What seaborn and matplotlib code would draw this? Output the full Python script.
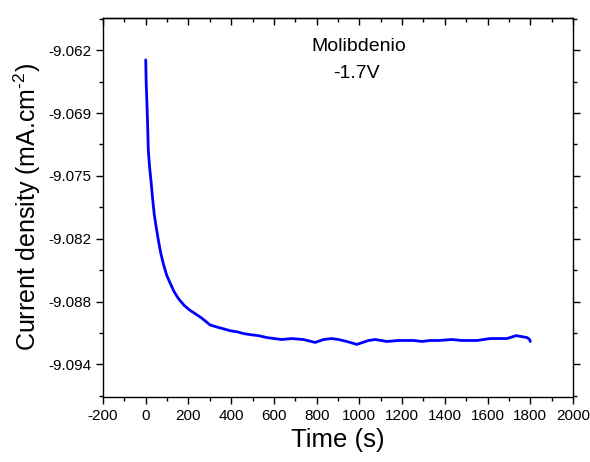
import pandas as pd
import matplotlib
matplotlib.use("Agg")
import matplotlib.pyplot as plt
import seaborn as sns
from matplotlib.ticker import AutoMinorLocator, FixedLocator

# values
time_s = [0, 2, 5, 9, 12, 18, 25, 32, 40, 50, 59, 70, 82, 98, 114, 133, 153,
          180, 207, 235, 262, 301, 330, 364, 395, 426, 460, 489, 527, 567,
          600, 637, 684, 738, 793, 832, 870, 902, 941, 988, 1043, 1074, 1129,
          1183, 1215, 1255, 1293, 1330, 1371, 1433, 1480, 1515, 1550, 1613,
          1650, 1691, 1734, 1760, 1785, 1797, 1800]
current = [-9.0632, -9.0655, -9.0673, -9.0700, -9.0725, -9.0742, -9.0757,
           -9.0774, -9.0791, -9.0805, -9.0817, -9.0830, -9.0841, -9.0853,
           -9.0861, -9.0870, -9.0877, -9.0884, -9.0889, -9.0893, -9.0897,
           -9.0904, -9.0906, -9.0908, -9.0910, -9.0911, -9.0913, -9.0914,
           -9.0915, -9.0917, -9.0918, -9.0919, -9.0918, -9.0919, -9.0922,
           -9.0919, -9.0918, -9.0919, -9.0921, -9.0924, -9.0920, -9.0919,
           -9.0921, -9.0920, -9.0920, -9.0920, -9.0921, -9.0920, -9.0920,
           -9.0919, -9.0920, -9.0920, -9.0920, -9.0918, -9.0918, -9.0918,
           -9.0915, -9.0916, -9.0917, -9.0919, -9.0921]

y_ticks = [-9.0622, -9.06865, -9.0751, -9.08155, -9.0880, -9.09445]
y_labels = ["-9.062", "-9.069", "-9.075", "-9.082", "-9.088", "-9.094"]
x_ticks = list(range(-200, 2001, 200))

df = pd.DataFrame({"Time (s)": time_s, "Current": current})

sns.set_style("ticks")
plt.rcParams["font.family"] = ["Liberation Sans", "DejaVu Sans"]
plt.rcParams["mathtext.fontset"] = "custom"
plt.rcParams["mathtext.rm"] = "Liberation Sans"
plt.rcParams["text.color"] = "black"
plt.rcParams["axes.labelcolor"] = "black"
plt.rcParams["xtick.color"] = "black"
plt.rcParams["ytick.color"] = "black"

fig = plt.figure(figsize=(5.9, 4.62), dpi=100)
ax = fig.add_axes([0.1746, 0.1407, 0.7966, 0.8203])

sns.lineplot(data=df, x="Time (s)", y="Current", ax=ax, color="#0000FF",
             linewidth=2.0)

ax.set_xlim(-200, 2000)
ax.set_ylim(-9.0978, -9.0589)
ax.set_xticks(x_ticks)
ax.set_xticklabels([str(v) for v in x_ticks], fontsize=11)
ax.yaxis.set_major_locator(FixedLocator(y_ticks))
ax.set_yticklabels(y_labels, fontsize=11)
ax.xaxis.set_minor_locator(AutoMinorLocator(2))
ax.yaxis.set_minor_locator(AutoMinorLocator(2))

ax.tick_params(which="both", direction="out", top=False, right=True,
               labelright=False, width=1)
ax.tick_params(which="major", length=5)
ax.tick_params(which="minor", length=3)

# top axis: ticks pointing inward, no labels
top = ax.secondary_xaxis("top")
top.set_xticks(x_ticks)
top.xaxis.set_minor_locator(AutoMinorLocator(2))
top.tick_params(which="both", direction="in", labeltop=False, width=1)
top.tick_params(which="major", length=5)
top.tick_params(which="minor", length=3)
top.spines["top"].set_linewidth(1.0)

for s in ax.spines.values():
    s.set_color("black")
    s.set_linewidth(1.0)

ax.set_xlabel("Time (s)", fontsize=18.5)
ax.set_ylabel(r"Current density (mA.cm$^{\text{-2}}$)", fontsize=18)

ax.text(0.545, 0.926, "Molibdenio", transform=ax.transAxes, ha="center",
        va="center", fontsize=14)
ax.text(0.540, 0.854, "-1.7V", transform=ax.transAxes, ha="center",
        va="center", fontsize=14)

fig.savefig("out.png", dpi=100)
